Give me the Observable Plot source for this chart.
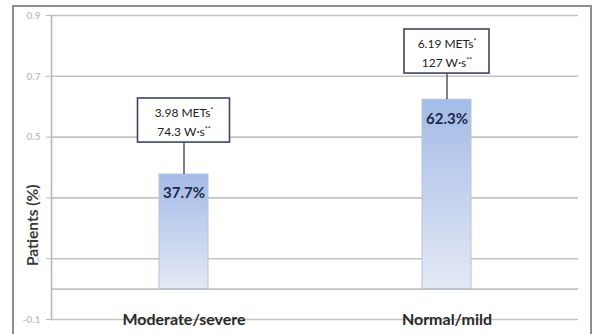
<!DOCTYPE html>
<html>
<head>
<meta charset="utf-8">
<script src="https://cdn.jsdelivr.net/npm/d3@7"></script>
<script src="https://cdn.jsdelivr.net/npm/@observablehq/plot@0.6"></script>
<style>
  html, body { margin: 0; padding: 0; background: #fff; }
  #wrap { position: relative; width: 592px; height: 334px; overflow: hidden; }
  #frame { position: absolute; left: 12px; top: 5px; width: 576px; height: 340px;
           border: 2px solid #8f8f8f; border-bottom: none; }
  #chart { position: absolute; left: 0; top: 0; }
</style>
</head>
<body>
<div id="wrap"><div id="frame"></div><div id="chart"></div></div>
<script>
// ---- data ----
const categories = ["Moderate/severe", "Normal/mild"];
const shares = [0.377, 0.623];
const valueLabels = ["37.7%", "62.3%"];
const metsLabels = ["3.98 METs*", "6.19 METs*"];
const wattLabels = ["74.3 W·s**", "127 W·s**"];
const yTicks = [-0.1, 0.1, 0.3, 0.5, 0.7, 0.9];
const yTickLabels = ["-0.1", "0.1", "0.3", "0.5", "0.7", "0.9"];
const yTitle = "Patients (%)";

// ---- callout layout (data units) ----
const calloutTop = [0.627, 0.854];
const calloutBottom = [0.482, 0.709];
const calloutInset = [-21.5, -18];

const rows = categories.map((c, i) => ({
  cat: c, share: shares[i], label: valueLabels[i],
  note: metsLabels[i] + "\n" + wattLabels[i],
  top: calloutTop[i], bottom: calloutBottom[i], i
}));

const gridColor = "#c3c3c3";

const plot = Plot.plot({
  width: 592, height: 334,
  marginLeft: 51, marginRight: 14, marginTop: 15, marginBottom: 15,
  style: { fontFamily: "Lato, 'Open Sans', sans-serif", background: "transparent" },
  x: { domain: categories, paddingInner: 0.814, paddingOuter: 0.407, axis: null },
  y: { domain: [-0.1, 0.9], axis: null },
  marks: [
    Plot.gridY(yTicks, { stroke: gridColor, strokeOpacity: 1, strokeWidth: 1.6 }),
    Plot.ruleY([0], { stroke: gridColor, strokeWidth: 1.6 }),
    Plot.frame({ anchor: "left", stroke: "#b8b8b8", strokeWidth: 1.6 }),
    Plot.axisY(yTicks, {
      tickFormat: d => yTickLabels[yTicks.indexOf(d)],
      tickSize: 5, tickPadding: 6, stroke: "#b8b8b8", fill: "#c4c4c4",
      fontSize: 10, fontWeight: "bold", label: null
    }),
    Plot.barY(rows, { x: "cat", y: "share", fill: "url(#barGrad)", stroke: "#b7c3d8", strokeWidth: 1 }),
    Plot.ruleX(rows, { x: "cat", y1: "share", y2: "bottom", stroke: "#4a4a4a", strokeWidth: 1.4 }),
    ...rows.map((r, i) => Plot.barY([r], {
      x: "cat", y1: "bottom", y2: "top", fill: "white", stroke: "#3c4660", strokeWidth: 1.6,
      insetLeft: calloutInset[i], insetRight: calloutInset[i]
    })),
    Plot.text(rows, {
      x: "cat", y: d => (d.top + d.bottom) / 2, text: "note",
      fontSize: 12, lineHeight: 1.6, fill: "#222", lineAnchor: "middle"
    }),
    Plot.text(rows, {
      x: "cat", y: "share", text: "label", dy: 19, fontSize: 15, fontWeight: "bold",
      fill: "#1b2a48"
    }),
    Plot.text(rows, {
      x: "cat", frameAnchor: "bottom", text: "cat", fontSize: 16, fontWeight: "bold",
      fill: "#2a2a2a", lineAnchor: "middle"
    }),
    Plot.text([yTitle], {
      frameAnchor: "left", y: () => 0.21, text: d => d, rotate: -90, dx: -18,
      textAnchor: "middle", lineAnchor: "middle",
      fontSize: 15.5, fontWeight: "bold", fill: "#3a3a3a", stroke: "white", strokeWidth: 3
    })
  ]
});

// gradient for the bars
const ns = "http://www.w3.org/2000/svg";
const defs = document.createElementNS(ns, "defs");
const grad = document.createElementNS(ns, "linearGradient");
grad.setAttribute("id", "barGrad");
grad.setAttribute("x1", "0"); grad.setAttribute("y1", "0");
grad.setAttribute("x2", "0"); grad.setAttribute("y2", "1");
[["0", "#a3bbe7"], ["1", "#e4e9f5"]].forEach(([o, c]) => {
  const s = document.createElementNS(ns, "stop");
  s.setAttribute("offset", o); s.setAttribute("stop-color", c);
  grad.appendChild(s);
});
defs.appendChild(grad);
plot.insertBefore(defs, plot.firstChild);

// superscript asterisks
plot.querySelectorAll("text, tspan").forEach(el => {
  if (el.children.length === 0 && el.textContent.includes("*")) {
    const t = el.textContent;
    const k = t.indexOf("*");
    el.textContent = t.slice(0, k);
    const sup = document.createElementNS(ns, "tspan");
    sup.setAttribute("baseline-shift", "super");
    sup.setAttribute("font-size", "7");
    sup.textContent = t.slice(k);
    el.appendChild(sup);
  }
});

document.getElementById("chart").appendChild(plot);
</script>
</body>
</html>
